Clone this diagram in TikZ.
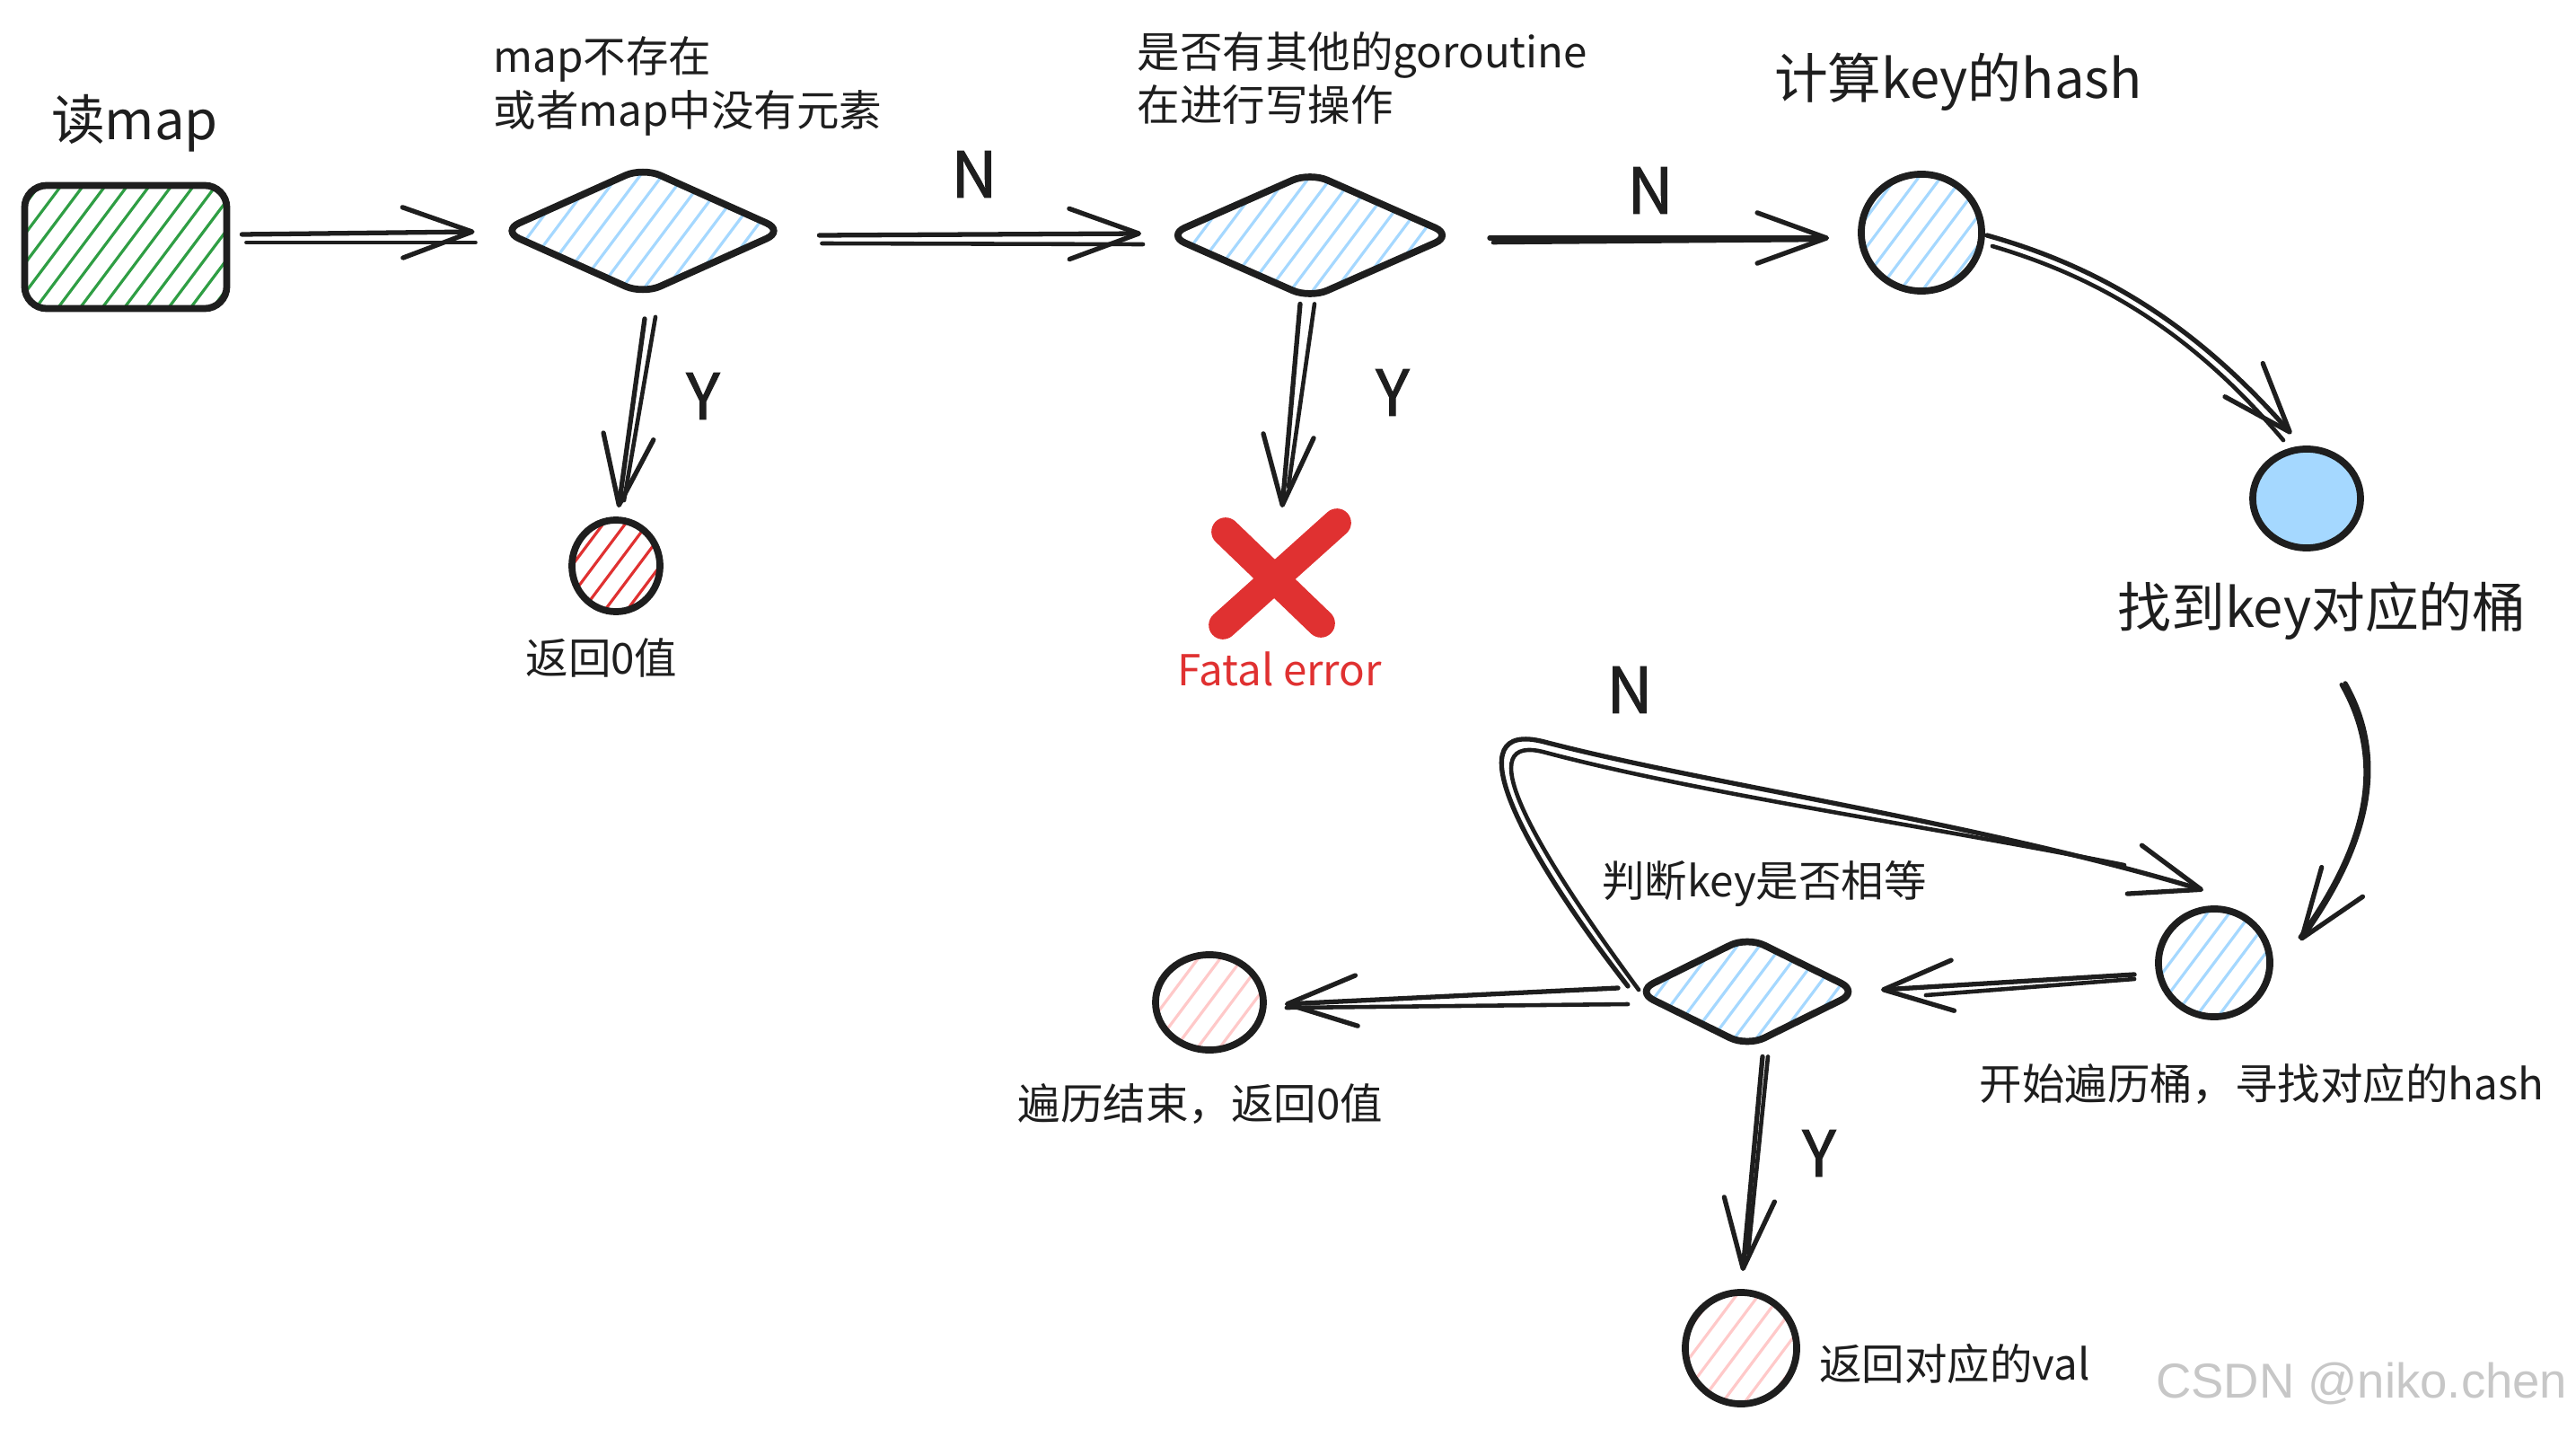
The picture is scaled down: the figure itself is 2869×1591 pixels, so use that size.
\documentclass[tikz,border=0pt]{standalone}
\usepackage{fontspec}
\setmainfont{Noto Sans CJK SC}
\newfontfamily\wmfont{Liberation Sans}
\newfontfamily\ynfont{Noto Sans CJK SC}[FakeBold=1.5]
\usetikzlibrary{shapes.geometric,arrows.meta}
\definecolor{ink}{HTML}{1E1E1E}
\definecolor{hgreen}{HTML}{2F9E44}
\definecolor{hblue}{HTML}{A5D8FF}
\definecolor{hred}{HTML}{E03131}
\definecolor{hpink}{HTML}{FFC9C9}
\begin{document}
\begin{tikzpicture}[x=0.01cm,y=0.01cm,
  shapebox/.style={draw=ink, line width=2.2pt, inner sep=0pt},
  hatch/.style={path picture={
     \foreach \k in {-20,...,20}{
       \draw[draw=#1, line width=0.9pt]
         ([xshift=\k*7pt-45pt,yshift=-60pt]path picture bounding box.center) -- ++(90pt,120pt);
     }}},
  conn/.style={draw=ink, line width=1.5pt, line cap=round, line join=round,
     -{Straight Barb[length=22pt,width=16pt,round]}},
  twin/.style={draw=ink, line width=1.3pt, line cap=round},
  lbl/.style={font=\fontsize{13.5}{17}\selectfont, text=ink, inner sep=0pt},
  big/.style={font=\fontsize{17}{20}\selectfont, text=ink, inner sep=0pt},
  yn/.style={font=\ynfont\fontsize{20}{22}\selectfont, text=ink, inner sep=0pt},
]
\fill[white] (0,0) rectangle (2869,-1591);
\useasboundingbox (0,0) rectangle (2869,-1591);

% ---------- shapes ----------
\node[shapebox, rectangle, rounded corners=7pt, minimum width=2.25cm, minimum height=1.37cm, hatch=hgreen] (rd) at (140,-275) {};
\node[shapebox, diamond, rounded corners=6pt, minimum width=3.17cm, minimum height=1.44cm, hatch=hblue] (d1) at (716,-257) {};
\node[shapebox, diamond, rounded corners=6pt, minimum width=3.20cm, minimum height=1.43cm, hatch=hblue] (d2) at (1459,-262) {};
\node[shapebox, ellipse, minimum width=1.34cm, minimum height=1.30cm, hatch=hblue] (hs) at (2140,-259) {};
\node[shapebox, ellipse, minimum width=1.20cm, minimum height=1.10cm, fill=hblue] (bk) at (2569,-555) {};
\node[shapebox, ellipse, minimum width=0.98cm, minimum height=1.02cm, hatch=hred] (r0) at (686,-630) {};
\node[shapebox, diamond, rounded corners=6pt, minimum width=2.50cm, minimum height=1.25cm, hatch=hblue] (d3) at (1946,-1104) {};
\node[shapebox, ellipse, minimum width=1.24cm, minimum height=1.20cm, hatch=hblue] (st) at (2466,-1072) {};
\node[shapebox, ellipse, minimum width=1.20cm, minimum height=1.06cm, hatch=hpink] (ed) at (1347,-1116) {};
\node[shapebox, ellipse, minimum width=1.24cm, minimum height=1.24cm, hatch=hpink] (vl) at (1939,-1501) {};

% red cross
\node[inner sep=0pt, minimum size=1.5cm] (xm) at (1425,-638) {};
\draw[hred, line width=9pt, line cap=round] ([shift={(-60,46)}]xm.center) -- ([shift={(46,-56)}]xm.center);
\draw[hred, line width=9pt, line cap=round] ([shift={(64,56)}]xm.center) -- ([shift={(-63,-58)}]xm.center);

% ---------- labels ----------
\node[big] (t0) at (150,-137) {读map};
\node[lbl, anchor=west, align=left] (t1) at (549,-96) {map不存在\\或者map中没有元素};
\node[lbl, anchor=west, align=left] (t2) at (1266,-87) {是否有其他的goroutine\\在进行写操作};
\node[big] (t3) at (2181,-91) {计算key的hash};
\node[big] (t4) at (2586,-680) {找到key对应的桶};
\node[lbl] (t5) at (670,-732) {返回0值};
\node[lbl, text=hred] (t6) at (1425,-745) {Fatal error};
\node[lbl] (t7) at (1965,-984) {判断key是否相等};
\node[lbl] (t8) at (1337,-1229) {遍历结束，返回0值};
\node[lbl] (t9) at (2519,-1207) {开始遍历桶，寻找对应的hash};
\node[lbl] (t10) at (2177,-1518) {返回对应的val};
\node[font=\wmfont\fontsize{15.5}{18}\selectfont, text=black!22, inner sep=0pt, anchor=east] (wm) at (2860,-1541) {CSDN @niko.chen};

\node[yn] (n1) at (1085,-194) {N};
\node[yn] (n2) at (1838,-212) {N};
\node[yn] (n3) at (1815,-768) {N};
\node[yn] (y1) at (783,-441) {Y};
\node[yn] (y2) at (1551,-437) {Y};
\node[yn] (y3) at (2026,-1284) {Y};

% ---------- connectors ----------
\draw[conn] ([shift={(13,14)}]rd.east) -- ([shift={(-25,-1)}]d1.west);
\draw[twin] ([shift={(18,5)}]rd.east) -- ([shift={(-24,-13)}]d1.west);

\draw[conn] ([shift={(34,-5)}]d1.east) -- ([shift={(-24,2)}]d2.west);
\draw[twin] ([shift={(37,-14)}]d1.east) -- ([shift={(-22,-10)}]d2.west);

\draw[conn] ([shift={(36,-3)}]d2.east) -- ([shift={(-32,-6)}]hs.west);
\draw[twin] ([shift={(40,-8)}]d2.east) -- ([shift={(-40,-8)}]hs.west);

\draw[conn] ([shift={(2,-22)}]d1.south) -- ([shift={(3,10)}]r0.north);
\draw[twin] ([shift={(14,-20)}]d1.south) -- ([shift={(9,18)}]r0.north);

\draw[conn] ([shift={(-11,-1)}]d2.south) -- ([shift={(3,73)}]xm.center);
\draw[twin] ([shift={(5,-1)}]d2.south) -- ([shift={(10,96)}]xm.center);

\draw[conn] ([shift={(2,-3)}]hs.east) .. controls +(121,-34) and +(-112,127) .. ([shift={(-17,13)}]bk.north);
\draw[twin] ([shift={(8,-15)}]hs.east) .. controls +(115,-34) and +(-105,124) .. ([shift={(-26,6)}]bk.north);

\draw[conn] ([shift={(43,-147)}]bk.south) .. controls +(53,-93) and +(68,95) .. ([shift={(96,25)}]st.center);
\draw[twin, transform canvas={shift={(-1.2pt,-0.4pt)}}] ([shift={(43,-147)}]bk.south) .. controls +(53,-93) and +(68,95) .. ([shift={(100,30)}]st.center);

\draw[conn] ([shift={(-23,-13)}]st.west) -- ([shift={(20,2)}]d3.east);
\draw[twin] ([shift={(-23,-18)}]st.west) -- ([shift={(70,-4)}]d3.east);

\draw[conn] ([shift={(-15,4)}]d3.west) -- ([shift={(20,-2)}]ed.east);
\draw[twin] ([shift={(-4,-14)}]d3.west) -- ([shift={(22,-6)}]ed.east);

\draw[conn] ([shift={(17,-6)}]d3.south) -- ([shift={(2,20)}]vl.north);
\draw[twin] ([shift={(23,-6)}]d3.south) -- ([shift={(8,40)}]vl.north);

\coordinate (lp) at (1720,-826);
\draw[conn] ([shift={(-4,6)}]d3.west) .. controls (1690,-940) and (1620,-800) .. (lp) .. controls (1900,-873) and (2200,-915) .. ([shift={(-12,17)}]st.north);
\draw[twin] ([shift={(8,2)}]d3.west) .. controls (1702,-935) and (1636,-814) .. ([shift={(2,-12)}]lp) .. controls (1900,-885) and (2150,-920) .. ([shift={(-100,45)}]st.north);
\end{tikzpicture}
\end{document}
